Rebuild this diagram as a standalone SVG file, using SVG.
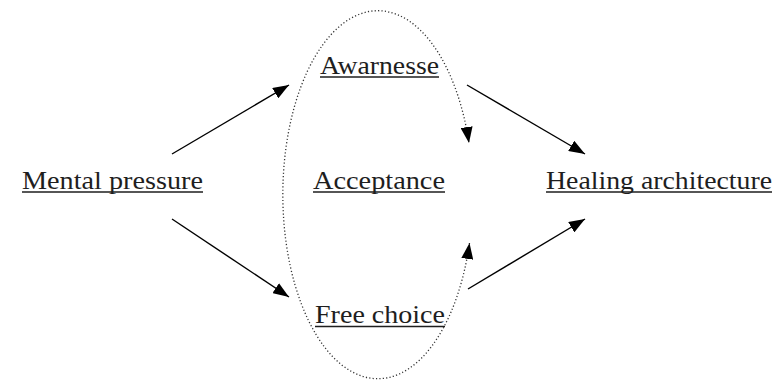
<svg xmlns="http://www.w3.org/2000/svg" width="777" height="381" viewBox="0 0 777 381">
  <style>
    text { font-family: "Liberation Serif", "DejaVu Serif", serif; font-size: 26px; fill: #1e1e1e; text-anchor: middle; }
    .uline { stroke: #1e1e1e; stroke-width: 1.3; }
    .edge { stroke: #000; stroke-width: 1.4; fill: none; }
    .loop { stroke: #333; stroke-width: 1.3; fill: none; stroke-dasharray: 1.2 2.2; }
  </style>
  <defs>
    <marker id="head" viewBox="0 0 16 12" refX="16" refY="6" markerWidth="16" markerHeight="12" markerUnits="userSpaceOnUse" orient="auto-start-reverse">
      <path d="M0,0 L16,6 L0,12 Z" fill="#000"/>
    </marker>
  </defs>
  <rect width="777" height="381" fill="#fff"/>

  <g id="connectors">
    <line class="edge" x1="172" y1="154" x2="289" y2="85" marker-end="url(#head)"/>
    <line class="edge" x1="172" y1="219" x2="289" y2="297" marker-end="url(#head)"/>
    <line class="edge" x1="467" y1="85" x2="585" y2="154" marker-end="url(#head)"/>
    <line class="edge" x1="468" y1="289" x2="585" y2="219" marker-end="url(#head)"/>
    <path class="loop" d="M469.5,243 A95 184 0 1 1 469,143" marker-start="url(#head)" marker-end="url(#head)"/>
  </g>

  <g id="mental-pressure">
    <text x="112.5" y="189" font-family="Liberation Serif, serif" textLength="181" lengthAdjust="spacingAndGlyphs">Mental pressure</text>
    <line class="uline" x1="22" y1="192" x2="203" y2="192"/>
  </g>
  <g id="awarnesse">
    <text x="379.5" y="74" font-family="Liberation Serif, serif" textLength="119" lengthAdjust="spacingAndGlyphs">Awarnesse</text>
    <line class="uline" x1="320" y1="77" x2="439" y2="77"/>
  </g>
  <g id="acceptance">
    <text x="379" y="189" font-family="Liberation Serif, serif" textLength="132" lengthAdjust="spacingAndGlyphs">Acceptance</text>
    <line class="uline" x1="313" y1="192" x2="445" y2="192"/>
  </g>
  <g id="free-choice">
    <text x="380" y="323" font-family="Liberation Serif, serif" textLength="130" lengthAdjust="spacingAndGlyphs">Free choice</text>
    <line class="uline" x1="315" y1="326.5" x2="445" y2="326.5"/>
  </g>
  <g id="healing-architecture">
    <text x="659" y="189" font-family="Liberation Serif, serif" textLength="226" lengthAdjust="spacingAndGlyphs">Healing architecture</text>
    <line class="uline" x1="546" y1="192" x2="772" y2="192"/>
  </g>
</svg>
